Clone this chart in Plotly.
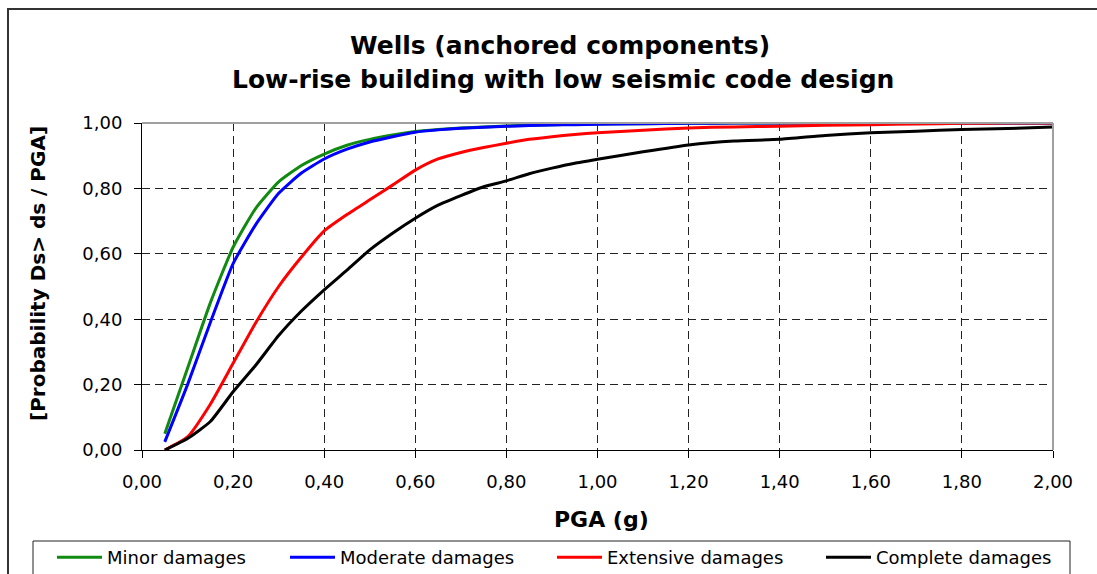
import plotly.graph_objects as go

# ---- data ----
pga = [0.05, 0.10, 0.15, 0.20, 0.25, 0.30, 0.35, 0.40, 0.45, 0.50,
       0.55, 0.60, 0.65, 0.70, 0.75, 0.80, 0.85, 0.90, 0.95, 1.00,
       1.10, 1.20, 1.30, 1.40, 1.50, 1.60, 1.70, 1.80, 1.90, 2.00]

minor = [0.050, 0.250, 0.450, 0.620, 0.740, 0.820, 0.870, 0.905, 0.932, 0.950,
         0.963, 0.974, 0.980, 0.985, 0.988, 0.991, 0.993, 0.995, 0.996, 0.997,
         0.998, 0.999, 1.000, 1.000, 1.000, 1.000, 1.000, 1.000, 1.000, 1.000]

moderate = [0.025, 0.200, 0.390, 0.570, 0.690, 0.785, 0.847, 0.890, 0.920, 0.942,
            0.958, 0.972, 0.979, 0.984, 0.987, 0.990, 0.992, 0.994, 0.995, 0.996,
            0.998, 0.999, 1.000, 1.000, 1.000, 1.000, 1.000, 1.000, 1.000, 1.000]

extensive = [0.000, 0.040, 0.140, 0.265, 0.390, 0.500, 0.590, 0.670, 0.720, 0.765,
             0.810, 0.856, 0.890, 0.910, 0.925, 0.938, 0.950, 0.958, 0.965, 0.970,
             0.978, 0.985, 0.988, 0.990, 0.993, 0.995, 0.997, 0.999, 1.000, 1.000]

complete = [0.000, 0.035, 0.087, 0.178, 0.260, 0.350, 0.425, 0.490, 0.550, 0.612,
            0.663, 0.709, 0.749, 0.778, 0.805, 0.823, 0.845, 0.862, 0.877, 0.889,
            0.912, 0.933, 0.945, 0.950, 0.962, 0.970, 0.975, 0.980, 0.983, 0.988]

series_names = ["Minor damages", "Moderate damages", "Extensive damages", "Complete damages"]
series_values = [minor, moderate, extensive, complete]
series_colors = ["#118a11", "#0000ff", "#ff0000", "#000000"]

title_lines = ["Wells (anchored components)", "Low-rise building with low seismic code design"]
x_title = "PGA (g)"
y_title = "[Probability Ds> ds / PGA]"

FONT = "DejaVu Sans"

# ---- layout geometry (pixels) ----
W, H = 1097, 574
L, R, T, B = 142, 1053, 123, 450
legend_left_px = [52, 285, 552, 821]   # where each legend entry sits
legend_top_px = 539


def px_x(p):
    return (p - L) / (R - L)


def px_y(p):
    return (B - p) / (B - T)


fig = go.Figure()
legend_ids = ["legend", "legend2", "legend3", "legend4"]
for name, vals, col, lid in zip(series_names, series_values, series_colors, legend_ids):
    fig.add_trace(go.Scatter(x=pga, y=vals, mode="lines", name=name, legend=lid,
                             line=dict(color=col, width=3, shape="spline", smoothing=0.5)))

grid = dict(showgrid=True, gridcolor="#222222", gridwidth=1, griddash="8px,5px")

legend_common = dict(orientation="h", xref="container", yref="container",
                     xanchor="left", yanchor="top", borderwidth=0,
                     bgcolor="rgba(0,0,0,0)", itemwidth=45,
                     font=dict(family=FONT, size=18, color="black"))
legends = {}
for lid, lx in zip(legend_ids, legend_left_px):
    legends[lid] = dict(legend_common, x=lx / W, y=1 - legend_top_px / H)

fig.update_layout(
    width=W, height=H,
    margin=dict(l=L, r=W - R, t=T, b=H - B, pad=0),
    paper_bgcolor="white", plot_bgcolor="white",
    separators=", ",
    font=dict(family=FONT, color="black", size=18),
    showlegend=True,
    xaxis=dict(range=[0, 2.0], dtick=0.2, tick0=0, tickformat=".2f",
               showline=True, linecolor="black", linewidth=1,
               ticks="outside", ticklen=7, tickcolor="black",
               zeroline=False, tickfont=dict(size=18),
               ticklabelstandoff=8, **grid),
    yaxis=dict(range=[0, 1.0], dtick=0.2, tick0=0, tickformat=".2f",
               showline=True, linecolor="black", linewidth=1,
               ticks="outside", ticklen=7, tickcolor="black",
               zeroline=False, tickfont=dict(size=18),
               ticklabelstandoff=8, **grid),
    **legends,
)

# plot-area gray border on top/right
fig.add_shape(type="line", xref="paper", yref="paper", x0=0, x1=1, y0=1, y1=1,
              line=dict(color="#a0a0a0", width=2))
fig.add_shape(type="line", xref="paper", yref="paper", x0=1, x1=1, y0=0, y1=1,
              line=dict(color="#a0a0a0", width=2))
# outer chart frame
fig.add_shape(type="rect", xref="paper", yref="paper",
              x0=px_x(8), x1=px_x(1110), y0=px_y(9), y1=px_y(590),
              line=dict(color="#333333", width=2), layer="below")
# legend frame
fig.add_shape(type="rect", xref="paper", yref="paper",
              x0=px_x(33), x1=px_x(1070), y0=px_y(541), y1=px_y(590),
              line=dict(color="#222222", width=1), layer="below")

fig.add_annotation(text="<b>%s</b>" % title_lines[0], xref="paper", yref="paper",
                   x=px_x(560), y=px_y(45), showarrow=False,
                   xanchor="center", yanchor="middle",
                   font=dict(family=FONT, size=25, color="black"))
fig.add_annotation(text="<b>%s</b>" % title_lines[1], xref="paper", yref="paper",
                   x=px_x(563), y=px_y(79), showarrow=False,
                   xanchor="center", yanchor="middle",
                   font=dict(family=FONT, size=25, color="black"))
fig.add_annotation(text="<b>%s</b>" % x_title, xref="paper", yref="paper",
                   x=px_x(601), y=px_y(519), showarrow=False,
                   xanchor="center", yanchor="middle",
                   font=dict(family=FONT, size=22, color="black"))
fig.add_annotation(text="<b>%s</b>" % y_title, xref="paper", yref="paper",
                   x=px_x(38), y=px_y(274), showarrow=False, textangle=-90,
                   xanchor="center", yanchor="middle",
                   font=dict(family=FONT, size=20, color="black"))

fig.write_html("out.html", config={"displayModeBar": False})
